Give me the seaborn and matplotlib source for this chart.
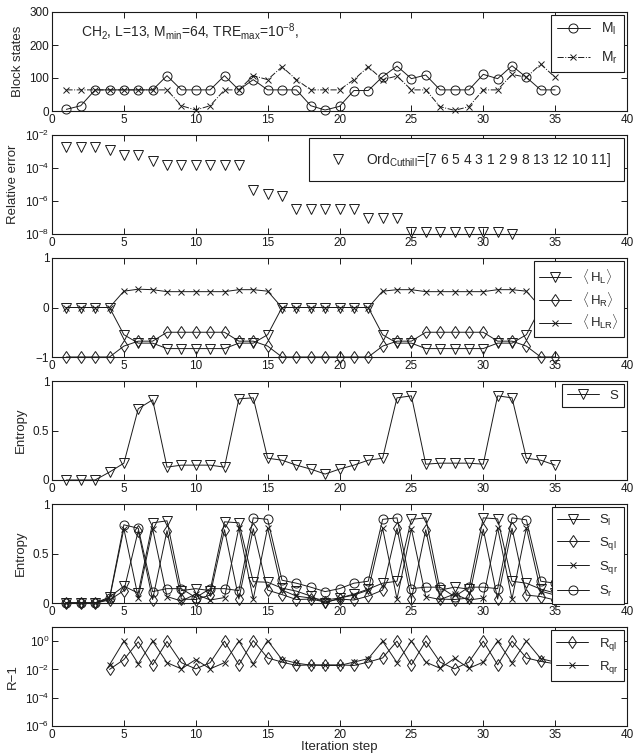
import numpy as np
import matplotlib
matplotlib.use("Agg")
import matplotlib.pyplot as plt
import seaborn as sns
from matplotlib.ticker import NullLocator, FixedLocator

# iteration steps
steps = list(range(1, 36))
r_steps = list(range(4, 36))
err_steps = list(range(1, 33))

# block states
M_l = [5, 16, 64, 64, 64, 64, 64, 107, 64, 64, 64, 107, 64, 95, 64, 64, 64, 16, 3, 14,
       62, 62, 104, 136, 98, 109, 64, 64, 64, 111, 98, 137, 102, 64, 64]
M_r = [64, 64, 64, 64, 64, 64, 64, 64, 16, 3, 16, 64, 64, 107, 95, 134, 95, 64, 64, 64,
       95, 134, 95, 106, 64, 64, 13, 2, 13, 64, 64, 111, 102, 142, 102]

# relative error
rel_err = [1.8e-3, 1.8e-3, 1.8e-3, 1.2e-3, 6e-4, 6e-4, 2.7e-4, 1.5e-4, 1.5e-4, 1.5e-4,
           1.5e-4, 1.5e-4, 1.5e-4, 4.5e-6, 2.7e-6, 1.9e-6, 3.1e-7, 3.1e-7, 3.1e-7, 3.1e-7,
           3.1e-7, 1.0e-7, 1.0e-7, 1.0e-7, 1.4e-8, 1.4e-8, 1.4e-8, 1.4e-8, 1.4e-8, 1.4e-8,
           1.4e-8, 1.05e-8]

# energies
H_L = [0, 0, 0, 0, -0.55, -0.72, -0.72, -0.83, -0.83, -0.83, -0.83, -0.83, -0.72, -0.72,
       -0.55, 0, 0, 0, 0, 0, 0, 0, -0.55, -0.72, -0.72, -0.83, -0.83, -0.83, -0.83, -0.83,
       -0.72, -0.72, -0.55, 0, 0]
H_R = [-1, -1, -1, -1, -0.78, -0.68, -0.68, -0.5, -0.5, -0.5, -0.5, -0.5, -0.68, -0.68,
       -0.78, -1, -1, -1, -1, -1, -1, -1, -0.78, -0.68, -0.68, -0.5, -0.5, -0.5, -0.5, -0.5,
       -0.68, -0.68, -0.78, -1, -1]
H_LR = [0, 0, 0, 0, 0.33, 0.37, 0.36, 0.32, 0.32, 0.32, 0.32, 0.32, 0.36, 0.36, 0.33,
        0, 0, 0, 0, 0, 0, 0, 0.33, 0.36, 0.36, 0.32, 0.32, 0.32, 0.32, 0.32, 0.36, 0.36,
        0.33, 0, 0]

# entropy
S = [0, 0, 0, 0.08, 0.17, 0.72, 0.81, 0.13, 0.15, 0.15, 0.15, 0.13, 0.82, 0.83, 0.22,
     0.2, 0.15, 0.11, 0.06, 0.11, 0.15, 0.2, 0.22, 0.83, 0.85, 0.16, 0.17, 0.17, 0.17,
     0.16, 0.85, 0.83, 0.22, 0.2, 0.15]

S_l = [0, 0, 0, 0.06, 0.17, 0.10, 0.81, 0.83, 0.125, 0.145, 0.125, 0.82, 0.81, 0.215,
       0.21, 0.15, 0.12, 0.07, 0.0, 0.05, 0.09, 0.14, 0.2, 0.22, 0.845, 0.86, 0.13, 0.16,
       0.14, 0.86, 0.85, 0.22, 0.2, 0.14, 0.1]
S_ql = [0, 0, 0, 0.03, 0.125, 0.73, 0.035, 0.73, 0.04, 0.035, 0.08, 0.74, 0.04, 0.75,
        0.13, 0.085, 0.035, 0.04, 0.01, 0.04, 0.03, 0.07, 0.13, 0.755, 0.04, 0.74, 0.04,
        0.035, 0.05, 0.745, 0.04, 0.755, 0.08, 0.065, 0.03]
S_qr = [0, 0, 0, 0.04, 0.75, 0.055, 0.75, 0.065, 0.02, 0.09, 0.03, 0.055, 0.76, 0.04,
        0.76, 0.13, 0.07, 0.05, 0.03, 0.05, 0.08, 0.13, 0.755, 0.04, 0.75, 0.065, 0.035,
        0.09, 0.03, 0.05, 0.76, 0.04, 0.76, 0.12, 0.08]
S_r = [0, 0, 0, 0.05, 0.79, 0.755, 0.115, 0.145, 0.145, 0.055, 0.145, 0.145, 0.125, 0.86,
       0.845, 0.23, 0.2, 0.16, 0.115, 0.145, 0.2, 0.22, 0.845, 0.86, 0.145, 0.16, 0.16,
       0.065, 0.16, 0.16, 0.145, 0.86, 0.84, 0.22, 0.2]

# R - 1
R_ql = [0.01, 0.05, 0.9, 0.021, 0.95, 0.03, 0.011, 0.03, 1.0, 0.021, 1.1, 0.065, 0.033,
        0.019, 0.021, 0.021, 0.021, 0.019, 0.033, 0.065, 1.0, 0.021, 1.0, 0.033, 0.011,
        0.033, 1.0, 0.021, 1.0, 0.065, 0.037, 0.025]
R_qr = [0.021, 1.0, 0.025, 1.0, 0.03, 0.011, 0.05, 0.011, 0.03, 1.0, 0.025, 1.1, 0.05,
        0.028, 0.02, 0.019, 0.019, 0.033, 0.058, 1.0, 0.03, 1.0, 0.033, 0.012, 0.06, 0.012,
        0.033, 1.0, 0.03, 1.0, 0.058, 0.033]

sns.set_theme(style="ticks")
plt.rcParams["font.family"] = ["Liberation Sans", "DejaVu Sans"]
plt.rcParams["mathtext.fontset"] = "custom"
plt.rcParams["mathtext.rm"] = "Liberation Sans"
plt.rcParams["mathtext.it"] = "Liberation Sans:italic"
plt.rcParams["mathtext.bf"] = "Liberation Sans:bold"
plt.rcParams["axes.edgecolor"] = "k"
plt.rcParams["axes.linewidth"] = 0.8
plt.rcParams["xtick.color"] = "k"
plt.rcParams["ytick.color"] = "k"

W, H = 634, 756
fig = plt.figure(figsize=(W / 100, H / 100), dpi=100)
left, right = 52, 627
tops = [12, 135, 258, 381, 504, 627]
ax_h = 99
axes = []
for t in tops:
    axes.append(fig.add_axes([left / W, 1 - (t + ax_h) / H, (right - left) / W, ax_h / H]))

lw = 0.7
ms = 6.5


def line(ax, x, y, marker, label, ls="-", size=ms):
    sns.lineplot(x=x, y=y, ax=ax, color="k", linewidth=lw, linestyle=ls,
                 marker=marker, markersize=size, markerfacecolor="none",
                 markeredgecolor="k", markeredgewidth=0.7, label=label,
                 estimator=None, clip_on=False)


def legend(ax, **kw):
    kw.setdefault("fontsize", 9.5)
    leg = ax.legend(loc="upper right", frameon=True, fancybox=False,
                    framealpha=1, edgecolor="k", borderaxespad=0.25,
                    handlelength=2.4, **kw)
    leg.get_frame().set_linewidth(0.8)
    return leg


# panel 1
ax = axes[0]
line(ax, steps, M_l, "o", "M$_\\mathrm{l}$")
line(ax, steps, M_r, "x", "M$_\\mathrm{r}$", ls="-.", size=5)
ax.set_ylim(0, 300)
ax.set_yticks([0, 100, 200, 300])
ax.set_ylabel("Block states", fontsize=9.5)
ax.text(2, 240, "CH$_2$, L=13, M$_\\mathrm{min}$=64, TRE$_\\mathrm{max}$=10$^{-8}$,",
        fontsize=10, va="center")
legend(ax, labelspacing=0.9, fontsize=10)

# panel 2
ax = axes[1]
ax.set_yscale("log")
sns.lineplot(x=err_steps, y=rel_err, ax=ax, color="k", linestyle="none", marker="v",
             markersize=ms, markerfacecolor="none", markeredgecolor="k",
             markeredgewidth=0.7, estimator=None, clip_on=False,
             label="Ord$_\\mathrm{Cuthill}$=[7 6 5 4 3 1 2 9 8 13 12 10 11]")
ax.set_ylim(1e-8, 1e-2)
ax.yaxis.set_major_locator(FixedLocator([1e-8, 1e-6, 1e-4, 1e-2]))
ax.yaxis.set_minor_locator(NullLocator())
ax.set_ylabel("Relative error", fontsize=9.5)
legend(ax, fontsize=10, borderpad=0.9)

# panel 3
ax = axes[2]
line(ax, steps, H_L, "v", "$\\langle\\,\\mathrm{H}_\\mathrm{L}\\rangle$")
line(ax, steps, H_R, "d", "$\\langle\\,\\mathrm{H}_\\mathrm{R}\\rangle$")
line(ax, steps, H_LR, "x", "$\\langle\\,\\mathrm{H}_\\mathrm{LR}\\rangle$", size=4)
ax.set_ylim(-1, 1)
ax.set_yticks([-1, 0, 1])
ax.set_yticklabels(["\u22121", "0", "1"])
legend(ax, labelspacing=0.3)

# panel 4
ax = axes[3]
line(ax, steps, S, "v", "S")
ax.set_ylim(0, 1)
ax.set_yticks([0, 0.5, 1])
ax.set_yticklabels(["0", "0.5", "1"])
ax.set_ylabel("Entropy", fontsize=9.5)
legend(ax)

# panel 5
ax = axes[4]
line(ax, steps, S_l, "v", "S$_\\mathrm{l}$")
line(ax, steps, S_ql, "d", "S$_\\mathrm{ql}$")
line(ax, steps, S_qr, "x", "S$_\\mathrm{qr}$", size=4)
line(ax, steps, S_r, "o", "S$_\\mathrm{r}$")
ax.set_ylim(0, 1)
ax.set_yticks([0, 0.5, 1])
ax.set_yticklabels(["0", "0.5", "1"])
ax.set_ylabel("Entropy", fontsize=9.5)
legend(ax, labelspacing=0.55)

# panel 6
ax = axes[5]
ax.set_yscale("log")
line(ax, r_steps, R_ql, "d", "R$_\\mathrm{ql}$")
line(ax, r_steps, R_qr, "x", "R$_\\mathrm{qr}$", size=4)
ax.set_ylim(1e-6, 10)
ax.yaxis.set_major_locator(FixedLocator([1e-6, 1e-4, 1e-2, 1e0]))
ax.yaxis.set_minor_locator(NullLocator())
ax.set_ylabel("R\u22121", fontsize=9.5)
ax.set_xlabel("Iteration step", fontsize=9.5, labelpad=0)
legend(ax, labelspacing=0.5)

for ax in axes:
    ax.set_xlim(0, 40)
    ax.set_xticks(range(0, 41, 5))
    ax.tick_params(direction="in", top=True, right=True, length=4, width=0.7,
                   labelsize=8.5, pad=2)
    ax.xaxis.set_minor_locator(NullLocator())
    for s in ax.spines.values():
        s.set_visible(True)
    if ax is not axes[5]:
        ax.set_xlabel("")

fig.savefig("out.png", dpi=100)
